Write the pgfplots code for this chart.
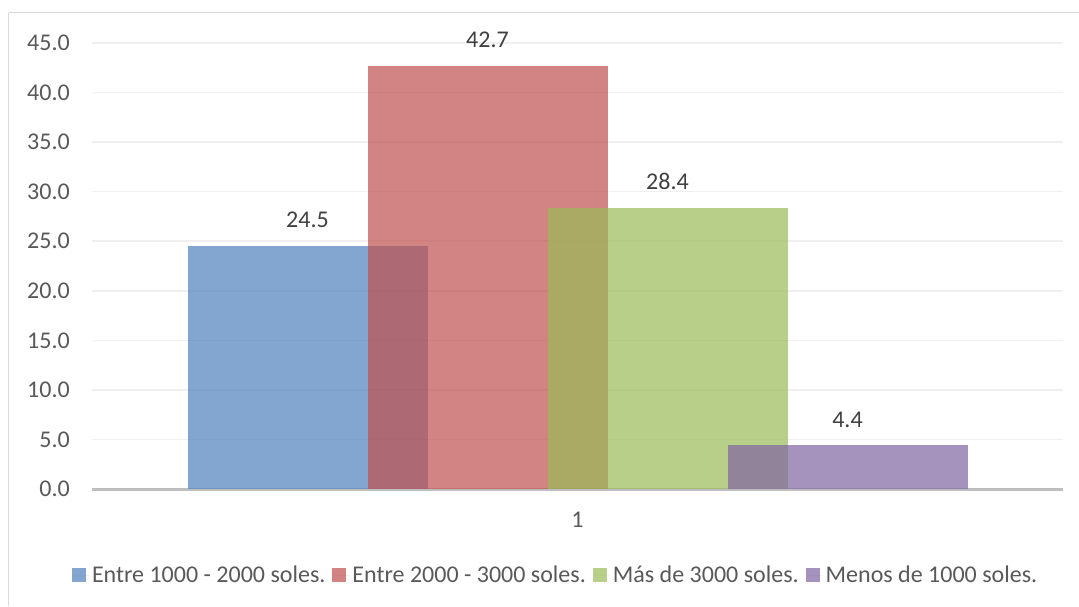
\documentclass[border=0pt]{standalone}
\usepackage{pgfplots}
\pgfplotsset{compat=1.18}
\usepackage{fontspec}
\setmainfont{Carlito}

\definecolor{sBlue}{HTML}{4F81BD}
\definecolor{sRed}{HTML}{C0504D}
\definecolor{sGreen}{HTML}{9BBB59}
\definecolor{sPurple}{HTML}{8064A2}
\definecolor{tickgray}{HTML}{595959}
\definecolor{labelgray}{HTML}{404040}
\definecolor{gridgray}{HTML}{EFEFEF}
\definecolor{axisgray}{HTML}{BFBFBF}
\definecolor{framegray}{HTML}{D9D9D9}

\newcommand{\chartfont}{\fontsize{24}{28}\selectfont}

\begin{document}
\begin{tikzpicture}[x=1pt,y=1pt]
  % canvas: 1079 x 606, origin at the top-left corner
  \useasboundingbox (0,0) rectangle (1079,-606);
  \fill[white] (0,0) rectangle (1079,-606);
  % chart frame (top and left edges)
  \draw[framegray, line width=1.5pt] (8.5,-12.5) -- (1079,-12.5);
  \draw[framegray, line width=1.5pt] (8.5,-12.5) -- (8.5,-606);

  \begin{axis}[
      at={(92pt,-489pt)}, anchor=south west,
      x=971pt, y=9.9111pt,
      xmin=0.5, xmax=1.5, ymin=0, ymax=45,
      axis line style={draw=none},
      ymajorgrids, grid style={draw=gridgray, line width=1.5pt},
      extra y ticks={0}, extra y tick labels={},
      extra y tick style={grid style={draw=axisgray, line width=3pt}},
      major tick length=0pt,
      xtick={1}, xticklabels={1},
      ytick={0,5,...,45},
      tick label style={font=\chartfont, text=tickgray},
      yticklabel style={anchor=east, inner sep=0pt, xshift=-22pt},
      xticklabel style={anchor=north, inner sep=0pt, yshift=-23pt},
      /pgf/number format/.cd, fixed, fixed zerofill, precision=1, assume math mode=true,
      /pgfplots/.cd,
      nodes near coords,
      every node near coord/.append style={font=\chartfont, text=labelgray,
        anchor=south, inner sep=0pt, yshift=18pt,
        /pgf/number format/fixed, /pgf/number format/fixed zerofill,
        /pgf/number format/precision=1},
      legend columns=4,
      legend style={draw=none, fill=none, font=\chartfont, text=tickgray,
        at={(axis description cs:0.478,-0.193)}, anchor=center,
        /tikz/every even column/.append style={column sep=4pt},
        nodes={inner sep=3pt}},
      legend image code/.code={
        \path (0pt,0pt) -- (17pt,0pt);
        \fill[#1] (0pt,-7pt) rectangle (14pt,7pt);},
    ]
    \addplot[ybar, bar width=240pt, bar shift=-270pt, draw=none, fill=sBlue, fill opacity=0.7,
      every node near coord/.append style={xshift=-270pt, fill opacity=1, text opacity=1}]
      coordinates {(1,24.5)};
    \addlegendentry{Entre 1000 - 2000 soles.}
    \addplot[ybar, bar width=240pt, bar shift=-90pt, draw=none, fill=sRed, fill opacity=0.7,
      every node near coord/.append style={xshift=-90pt, fill opacity=1, text opacity=1}]
      coordinates {(1,42.7)};
    \addlegendentry{Entre 2000 - 3000 soles.}
    \addplot[ybar, bar width=240pt, bar shift=90pt, draw=none, fill=sGreen, fill opacity=0.7,
      every node near coord/.append style={xshift=90pt, fill opacity=1, text opacity=1}]
      coordinates {(1,28.4)};
    \addlegendentry{Más de 3000 soles.}
    \addplot[ybar, bar width=240pt, bar shift=270pt, draw=none, fill=sPurple, fill opacity=0.7,
      every node near coord/.append style={xshift=270pt, fill opacity=1, text opacity=1}]
      coordinates {(1,4.4)};
    \addlegendentry{Menos de 1000 soles.}
  \end{axis}
\end{tikzpicture}
\end{document}
